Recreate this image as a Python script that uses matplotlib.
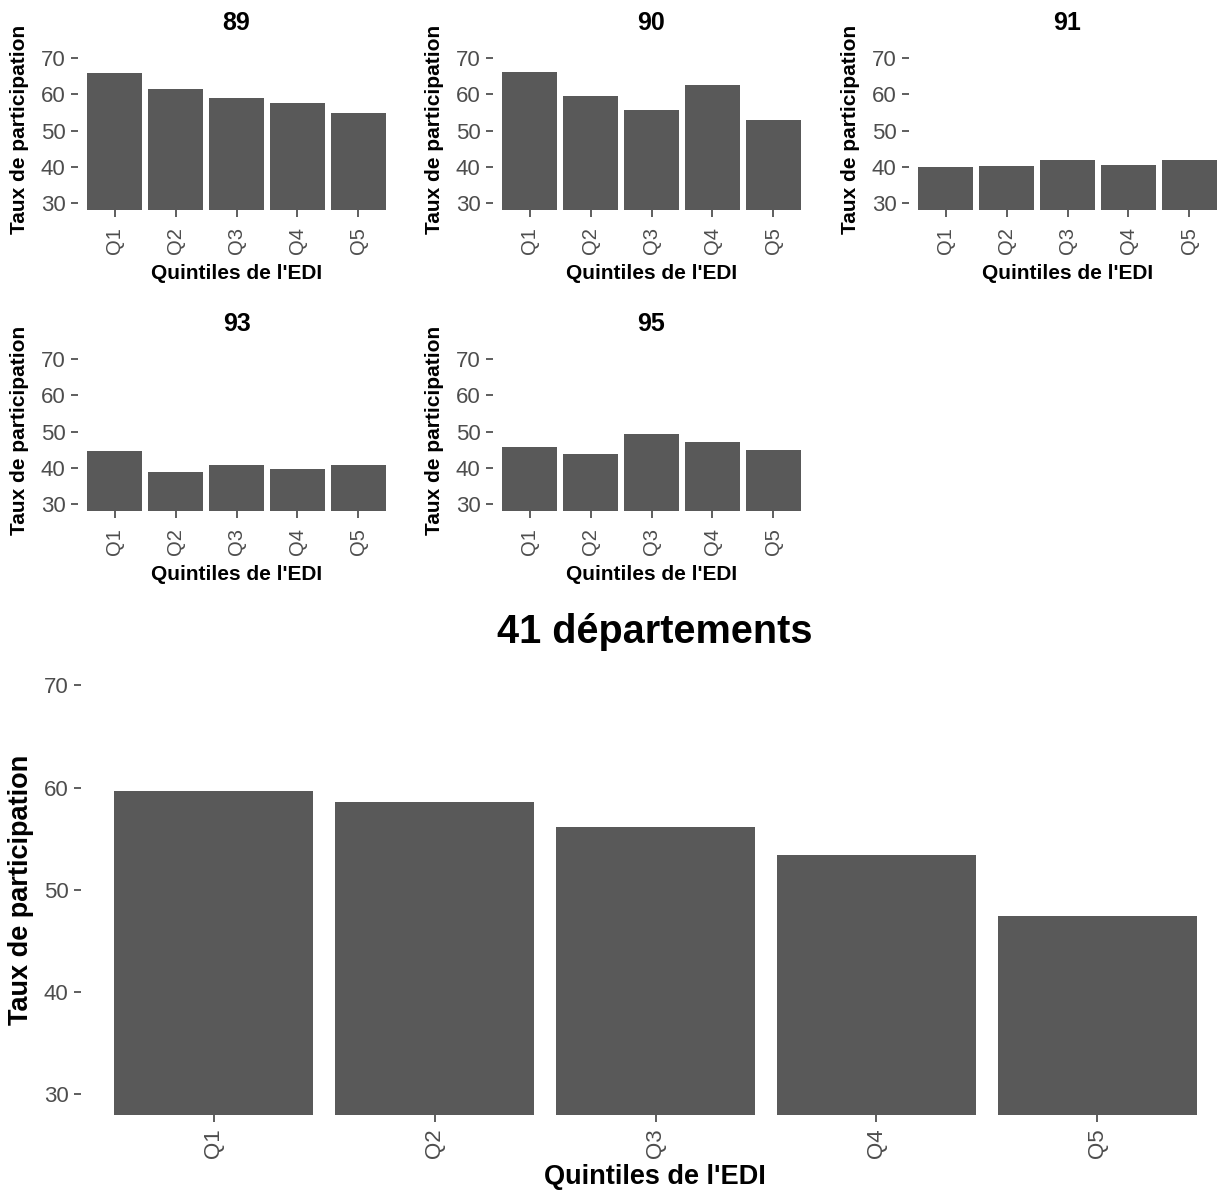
import matplotlib
matplotlib.use("Agg")
import matplotlib.pyplot as plt

plt.rcParams['font.family'] = ['Liberation Sans', 'DejaVu Sans']

quintiles = ["Q1", "Q2", "Q3", "Q4", "Q5"]
dept_names = ["89", "90", "91", "93", "95"]
vals_89 = [65.9, 61.5, 58.9, 57.6, 54.8]
vals_90 = [66.2, 59.5, 55.7, 62.6, 53.1]
vals_91 = [40.0, 40.4, 41.8, 40.6, 41.8]
vals_93 = [44.6, 38.8, 40.7, 39.6, 40.8]
vals_95 = [45.8, 43.8, 49.3, 47.0, 44.9]
vals_all = [59.7, 58.6, 56.15, 53.4, 47.4]
y_ticks = [30, 40, 50, 60, 70]
big_title = "41 départements"
ylab = "Taux de participation"
xlab = "Quintiles de l'EDI"

W, H = 1220, 1191
fig = plt.figure(figsize=(W / 100, H / 100), dpi=100)

BAR = "#595959"
TICKLAB = "#4D4D4D"
TICK = "#333333"


def px_axes(x0, x1, y0, y1):
    # y0 top pixel, y1 bottom pixel
    return fig.add_axes([x0 / W, 1 - y1 / H, (x1 - x0) / W, (y1 - y0) / H])


def style(ax, vals, yfs, xfs, xpad):
    xs = list(range(len(quintiles)))
    ax.bar(xs, vals, width=0.9, color=BAR, edgecolor="none")
    ax.set_xlim(-0.6, len(quintiles) - 0.4)
    ax.set_ylim(28, 72)
    ax.set_yticks(y_ticks)
    ax.set_yticklabels([str(t) for t in y_ticks])
    ax.set_xticks(xs)
    ax.set_xticklabels(quintiles, rotation=90)
    for s in ax.spines.values():
        s.set_visible(False)
    ax.tick_params(axis="both", colors=TICK, length=5, width=1.1,
                   labelcolor=TICKLAB)
    ax.tick_params(axis="y", pad=4, labelsize=yfs)
    ax.tick_params(axis="x", pad=xpad, labelsize=xfs)
    ax.patch.set_alpha(0)


small = [
    (dept_names[0], vals_89, 78, 395, 51, 210.5),
    (dept_names[1], vals_90, 493, 810, 51, 210.5),
    (dept_names[2], vals_91, 909, 1226, 51, 210.5),
    (dept_names[3], vals_93, 78, 395, 352, 511),
    (dept_names[4], vals_95, 493, 810, 352, 511),
]

for name, vals, x0, x1, y0, y1 in small:
    ax = px_axes(x0, x1, y0, y1)
    style(ax, vals, 16, 14.5, 7)
    cx = (x0 + x1) / 2
    fig.text(cx / W, 1 - (y0 - 28) / H, name, ha="center", va="center",
             fontsize=18, fontweight="bold", color="black")
    fig.text(cx / W, 1 - (y1 + 63) / H, xlab, ha="center", va="center",
             fontsize=15, fontweight="bold", color="black")
    fig.text((x0 - 58) / W, 1 - ((y0 + y1) / 2 - 1) / H, ylab, ha="center",
             va="center", rotation=90, fontsize=15, fontweight="bold",
             color="black")

# Big panel
bx0, bx1, by0, by1 = 81, 1230, 665, 1114.5
ax = px_axes(bx0, bx1, by0, by1)
style(ax, vals_all, 16, 16, 5)
fig.text(655 / W, 1 - 632 / H, big_title, ha="center", va="center",
         fontsize=28.5, fontweight="bold", color="black")
fig.text(655 / W, 1 - 1177 / H, xlab, ha="center", va="center",
         fontsize=19.5, fontweight="bold", color="black")
fig.text(21 / W, 1 - 890 / H, ylab, ha="center", va="center", rotation=90,
         fontsize=19.5, fontweight="bold", color="black")

fig.savefig("out.png", dpi=100, facecolor="white")
